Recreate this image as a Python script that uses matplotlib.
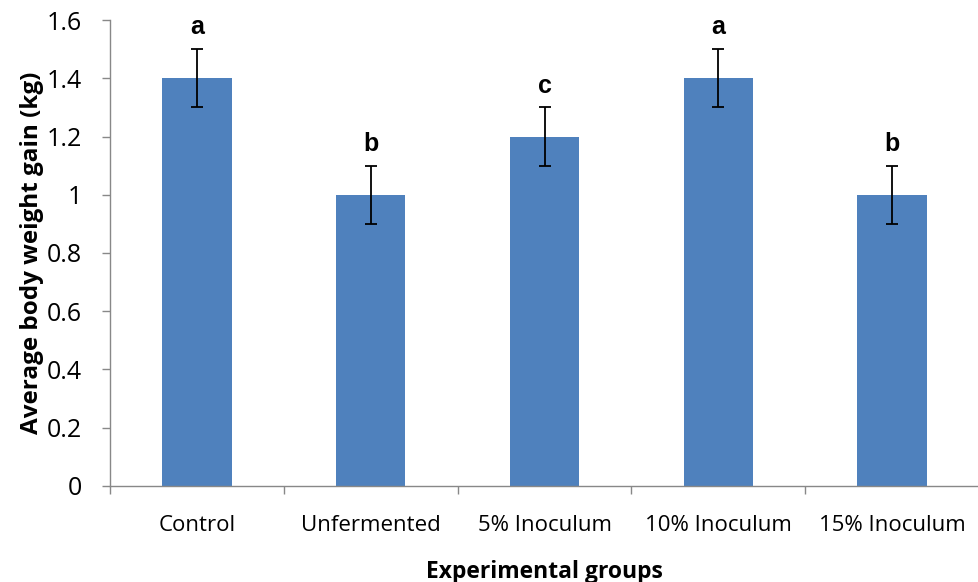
import matplotlib.pyplot as plt
import numpy as np

groups = ["Control", "Unfermented", "5% Inoculum", "10% Inoculum", "15% Inoculum"]
weight_gain = [1.4, 1.0, 1.2, 1.4, 1.0]
std_err = [0.1, 0.1, 0.1, 0.1, 0.1]
letters = ["a", "b", "c", "a", "b"]

label_font = "Open Sans"

fig = plt.figure(figsize=(9.79, 5.82), dpi=100)
ax = fig.add_axes([0.1124, 0.165, 0.8876, 0.8006])

x = np.arange(len(groups))
ax.bar(x, weight_gain, width=0.4, color="#4F81BD", zorder=2)
ax.errorbar(x, weight_gain, yerr=std_err, fmt="none", ecolor="black",
            elinewidth=1.3, capsize=4.5, capthick=1.3, zorder=3)

# significance letters above each error bar
for xi, v, e, s in zip(x, weight_gain, std_err, letters):
    ax.annotate(s, (xi, v + e), xytext=(0, 7), textcoords="offset points",
                ha="center", va="bottom", fontsize=18, fontweight="bold",
                family="Liberation Sans")

ax.set_xlim(-0.5, len(groups) - 0.5)
ax.set_ylim(0, 1.6)
ax.set_yticks(np.arange(0, 1.61, 0.2))
ax.set_yticklabels(["0", "0.2", "0.4", "0.6", "0.8", "1", "1.2", "1.4", "1.6"],
                   fontsize=18, family=label_font)

# ticks sit between categories, labels at bar centres
ax.set_xticks(np.arange(-0.5, len(groups), 1.0))
ax.set_xticklabels([])
ax.set_xticks(x, minor=True)
ax.set_xticklabels(groups, minor=True, fontsize=16, family=label_font)
ax.tick_params(axis="x", which="minor", length=0, pad=21)
ax.tick_params(axis="x", which="major", length=6, color="#888888", width=1)
ax.tick_params(axis="y", length=6, color="#888888", width=1, pad=14)

for side in ["top", "right"]:
    ax.spines[side].set_visible(False)
for side in ["left", "bottom"]:
    ax.spines[side].set_color("#888888")
    ax.spines[side].set_linewidth(1)

ax.set_ylabel("Average body weight gain (kg)", fontsize=17.5, fontweight="bold",
              family="Open Sans", labelpad=2)
ax.set_xlabel("Experimental groups", fontsize=16.5, fontweight="bold",
              family="Open Sans", labelpad=17)

fig.savefig("out.png", dpi=100)
